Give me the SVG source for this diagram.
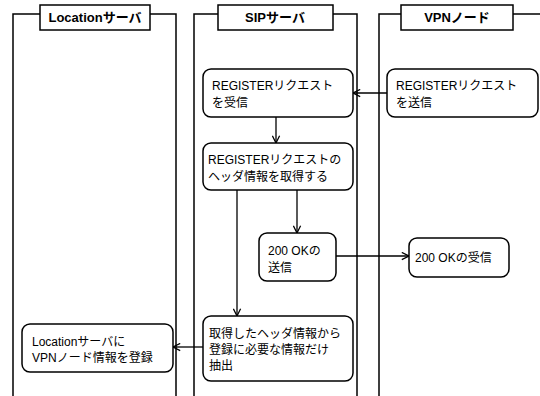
<svg xmlns="http://www.w3.org/2000/svg" width="540" height="396" viewBox="0 0 540 396">
<style>
.lane{fill:none;stroke:#000;stroke-width:1.5}
.hdr{fill:#fff;stroke:#000;stroke-width:1.5}
.node rect{fill:#fff;stroke:#000;stroke-width:1.5}
text{font-family:"Liberation Sans","Noto Sans CJK JP",sans-serif;font-size:12px;fill:#000}
.ht{font-weight:bold;text-anchor:middle;font-size:13px}
.edge{fill:none;stroke:#000;stroke-width:1.3}
</style>
<defs>
<marker id="arr" viewBox="0 0 10 10" refX="9" refY="5" markerWidth="9" markerHeight="9" markerUnits="userSpaceOnUse" orient="auto">
<path d="M1,1 L9,5 L1,9" fill="none" stroke="#000" stroke-width="1.4"/>
</marker>
</defs>
<rect width="540" height="396" fill="#fff"/>
<g id="lane-location">
<path class="lane" d="M13,396 V14 H40 M150,14 H176 V396"/>
<rect class="hdr" x="40" y="5" width="110" height="25"/>
<text class="ht" x="95" y="22">Locationサーバ</text>
</g>
<g id="lane-sip">
<path class="lane" d="M194,396 V14 H218 M333,14 H357 V396"/>
<rect class="hdr" x="218" y="5" width="115" height="25"/>
<text class="ht" x="275" y="22">SIPサーバ</text>
</g>
<g id="lane-vpn">
<path class="lane" d="M379,396 V14 H401 M513,14 H541"/>
<rect class="hdr" x="401" y="5" width="112" height="25"/>
<text class="ht" x="457" y="22">VPNノード</text>
</g>
<g id="edges">
<path class="edge" d="M387,93 H353" marker-end="url(#arr)"/>
<path class="edge" d="M276,117 V143" marker-end="url(#arr)"/>
<path class="edge" d="M297,190 V233" marker-end="url(#arr)"/>
<path class="edge" d="M237,190 V316" marker-end="url(#arr)"/>
<path class="edge" d="M336,256 H409" marker-end="url(#arr)"/>
<path class="edge" d="M203,347 H173" marker-end="url(#arr)"/>
</g>
<g id="n-recv" class="node">
<rect x="203" y="69" width="150" height="48" rx="8"/>
<text x="212" y="90">REGISTERリクエスト</text>
<text x="212" y="107">を受信</text>
</g>
<g id="n-send" class="node">
<rect x="387" y="69" width="151" height="48" rx="8"/>
<text x="396" y="90">REGISTERリクエスト</text>
<text x="396" y="107">を送信</text>
</g>
<g id="n-header" class="node">
<rect x="203" y="143" width="150" height="47" rx="8"/>
<text x="208" y="164">REGISTERリクエストの</text>
<text x="208" y="181">ヘッダ情報を取得する</text>
</g>
<g id="n-okSend" class="node">
<rect x="259" y="233" width="77" height="48" rx="8"/>
<text x="268" y="255">200 OKの</text>
<text x="268" y="272">送信</text>
</g>
<g id="n-okRecv" class="node">
<rect x="409" y="238" width="100" height="39" rx="8"/>
<text x="415" y="262">200 OKの受信</text>
</g>
<g id="n-extract" class="node">
<rect x="203" y="316" width="150" height="65" rx="8"/>
<text x="209" y="338">取得したヘッダ情報から</text>
<text x="209" y="354">登録に必要な情報だけ</text>
<text x="209" y="370">抽出</text>
</g>
<g id="n-register" class="node">
<rect x="22" y="324" width="151" height="48" rx="8"/>
<text x="32" y="346">Locationサーバに</text>
<text x="32" y="362">VPNノード情報を登録</text>
</g>
</svg>
